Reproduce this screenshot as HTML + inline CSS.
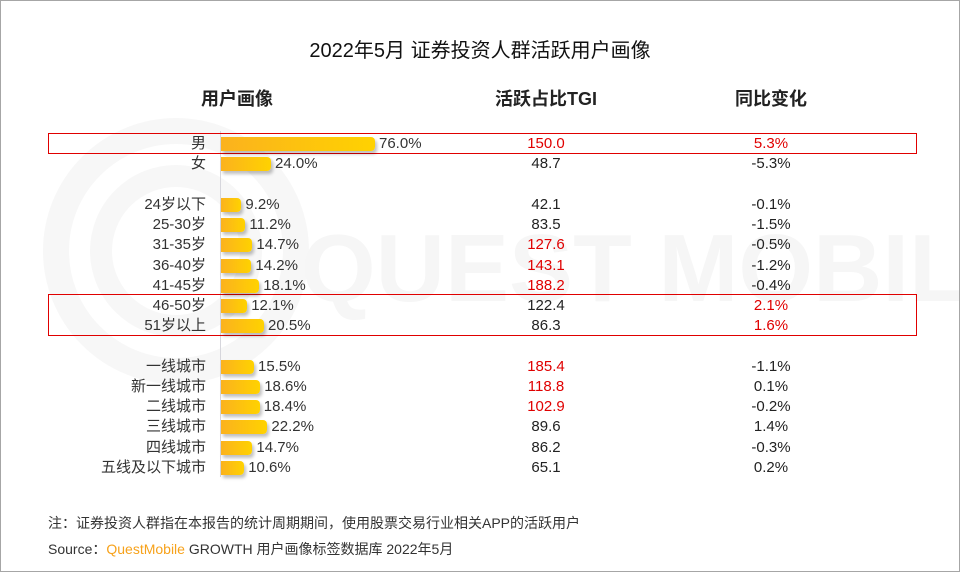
<!DOCTYPE html>
<html><head><meta charset="utf-8"><style>
body{margin:0;background:#fff;font-family:"Liberation Sans","Noto Sans CJK SC",sans-serif;}
#wrap{position:relative;width:958px;height:570px;border:1px solid #a6a6a6;overflow:hidden;background:#fff}
.t{position:absolute;white-space:nowrap;color:#222;line-height:18px}
</style></head><body>
<div id="wrap">
<svg width="958" height="570" style="position:absolute;left:0;top:0">
<circle cx="175" cy="250" r="120" fill="none" stroke="#f7f7f7" stroke-width="26"/>
<circle cx="175" cy="250" r="75" fill="none" stroke="#f7f7f7" stroke-width="22"/>
<text x="300" y="300" font-size="96" font-family="Liberation Sans" font-weight="bold" fill="#f6f6f6">QUEST MOBILE</text>
</svg>
<div class="t" style="left:0;width:958px;text-align:center;top:38px;font-size:20px;line-height:24px;color:#111">2022年5月 证券投资人群活跃用户画像</div>
<div class="t" style="left:200px;top:87px;font-size:18px;line-height:22px;font-weight:bold">用户画像</div>
<div class="t" style="left:490px;width:110px;text-align:center;top:87px;font-size:18px;line-height:22px;font-weight:bold">活跃占比TGI</div>
<div class="t" style="left:715px;width:110px;text-align:center;top:87px;font-size:18px;line-height:22px;font-weight:bold">同比变化</div>
<div style="position:absolute;left:219px;top:130px;width:1px;height:346px;background:#d6d6dc"></div>
<div style="position:absolute;left:47px;top:132px;width:869px;height:21px;border:1px solid #e00000;box-sizing:border-box"></div>
<div style="position:absolute;left:47px;top:293px;width:869px;height:42px;border:1px solid #e00000;box-sizing:border-box"></div>
<div id="rows"></div>
<div class="t" style="left:47px;top:513px;font-size:14px;color:#333">注：证券投资人群指在本报告的统计周期期间，使用股票交易行业相关APP的活跃用户</div>
<div class="t" style="left:47px;top:539px;font-size:14px;color:#333">Source：<span style="color:#f7a21b">QuestMobile</span> GROWTH 用户画像标签数据库 2022年5月</div>
</div>
<script>
const categories=["男","女","24岁以下","25-30岁","31-35岁","36-40岁","41-45岁","46-50岁","51岁以上","一线城市","新一线城市","二线城市","三线城市","四线城市","五线及以下城市"];
const shares=[76.0,24.0,9.2,11.2,14.7,14.2,18.1,12.1,20.5,15.5,18.6,18.4,22.2,14.7,10.6];
const tgi=[150.0,48.7,42.1,83.5,127.6,143.1,188.2,122.4,86.3,185.4,118.8,102.9,89.6,86.2,65.1];
const tgiRed=[1,0,0,0,1,1,1,0,0,1,1,1,0,0,0];
const changes=[5.3,-5.3,-0.1,-1.5,-0.5,-1.2,-0.4,2.1,1.6,-1.1,0.1,-0.2,1.4,-0.3,0.2];
const changeRed=[1,0,0,0,0,0,0,1,1,0,0,0,0,0,0];
const groupOf=[0,0,1,1,1,1,1,1,1,2,2,2,2,2,2];
const rows=document.getElementById('rows');
function yOf(i){const g=groupOf[i];return 143+i*20.2+g*20.5;}
function xW(v){return 2*v+2;}
categories.forEach((c,i)=>{
 const y=yOf(i);
 const lab=document.createElement('div');lab.className='t';
 
 
 lab.style.cssText=`right:${958-205}px;top:${y-9}px;font-size:15px;color:#333`;lab.textContent=c;rows.appendChild(lab);
 const w=xW(shares[i]);
 const b=document.createElement('div');
 
 
 b.style.cssText=`position:absolute;left:220px;top:${y-7}px;width:${w}px;height:14px;border-radius:0 4px 4px 0;background:linear-gradient(90deg,#fbb21e,#ffd200);box-shadow:2px 3px 3px rgba(0,0,0,0.25)`;rows.appendChild(b);
 const v=document.createElement('div');v.className='t';
 
 
 v.style.cssText=`left:${224+w}px;top:${y-9}px;font-size:15px;color:#333`;v.textContent=shares[i].toFixed(1)+'%';rows.appendChild(v);
 const t=document.createElement('div');t.className='t';
 
 
 t.style.cssText=`left:495px;width:100px;text-align:center;top:${y-9}px;font-size:15px;color:${tgiRed[i]?'#e00000':'#222'}`;t.textContent=tgi[i].toFixed(1);rows.appendChild(t);
 const ch=document.createElement('div');ch.className='t';
 
 
 ch.style.cssText=`left:720px;width:100px;text-align:center;top:${y-9}px;font-size:15px;color:${changeRed[i]?'#e00000':'#222'}`;ch.textContent=changes[i].toFixed(1)+'%';rows.appendChild(ch);
});
</script>
</body></html>
